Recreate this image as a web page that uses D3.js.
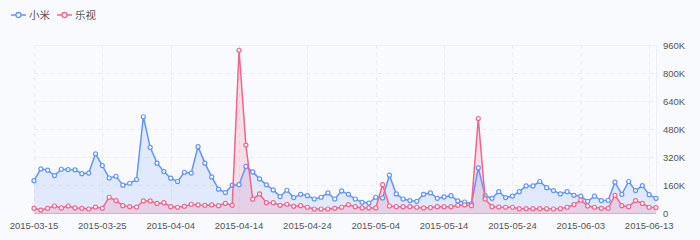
<!DOCTYPE html>
<html>
<head>
<meta charset="utf-8">
<script src="https://cdn.jsdelivr.net/npm/d3@7"></script>
<style>
  body { margin: 0; background: #f9fafd; }
  svg { display: block; }
</style>
</head>
<body>
<svg id="chart"></svg>
<script>
// categories: one point a day
var startDay = "2015-03-15";
var endDay = "2015-06-14";

// daily values, in thousands
var xiaomi = [185, 252, 245, 214, 250, 248, 247, 225, 228, 338, 271, 200, 210, 159, 170, 191,
    550, 375, 285, 237, 199, 180, 233, 228, 379, 285, 206, 136, 117, 159, 162, 266,
    235, 195, 161, 132, 94, 130, 88, 107, 99, 80, 90, 115, 80, 126, 107, 80,
    61, 57, 90, 86, 216, 109, 80, 71, 67, 107, 115, 84, 92, 99, 69, 63,
    53, 258, 99, 84, 122, 88, 97, 122, 155, 155, 180, 145, 128, 109, 122, 101,
    96, 67, 96, 71, 73, 176, 107, 180, 128, 157, 105, 84];
var letv = [27, 17, 27, 40, 29, 40, 29, 27, 23, 34, 27, 90, 71, 42, 36, 34,
    69, 69, 55, 59, 36, 33, 38, 50, 46, 44, 46, 42, 55, 44, 930, 388,
    79, 109, 59, 59, 44, 50, 38, 42, 33, 23, 23, 23, 27, 33, 48, 36,
    29, 29, 29, 162, 40, 36, 36, 36, 33, 29, 31, 36, 36, 36, 44, 46,
    42, 540, 80, 36, 34, 33, 33, 25, 25, 25, 25, 25, 23, 25, 33, 48,
    73, 40, 33, 27, 27, 101, 42, 36, 71, 55, 33, 31];

var seriesNames = ["小米", "乐视"];
var xTickLabels = ["2015-03-15", "2015-03-25", "2015-04-04", "2015-04-14", "2015-04-24",
    "2015-05-04", "2015-05-14", "2015-05-24", "2015-06-03", "2015-06-13"];
var yTicks = [0, 160, 320, 480, 640, 800, 960];

var width = 700;
var height = 240;
var plotLeft = 34, plotRight = 656, plotTop = 45, plotBottom = 213;
var blue = "#6395f9";
var pink = "#f0668c";

var parse = d3.timeParse("%Y-%m-%d");
var days = d3.timeDay.range(parse(startDay), d3.timeDay.offset(parse(endDay), 1));

var svg = d3.select("#chart")
    .attr("width", width)
    .attr("height", height);

var xScale = d3.scaleTime()
    .domain([parse(startDay), parse(endDay)])
    .range([plotLeft, plotRight]);
var yScale = d3.scaleLinear()
    .domain([0, 960])
    .range([plotBottom, plotTop]);

//grid lines
svg.append("g")
    .selectAll("line")
    .data(yTicks.slice(1, -1))
    .enter()
    .append("line")
    .attr("x1", plotLeft)
    .attr("x2", plotRight)
    .attr("y1", function(d){ return Math.round(yScale(d)) + 0.5 })
    .attr("y2", function(d){ return Math.round(yScale(d)) + 0.5 })
    .attr("stroke", "#e7ebf3")
    .attr("stroke-dasharray", "4,4");

svg.append("g")
    .selectAll("line")
    .data(xTickLabels)
    .enter()
    .append("line")
    .attr("x1", function(d){ return Math.round(xScale(parse(d))) + 0.5 })
    .attr("x2", function(d){ return Math.round(xScale(parse(d))) + 0.5 })
    .attr("y1", plotTop)
    .attr("y2", plotBottom)
    .attr("stroke", "#e7ebf3")
    .attr("stroke-dasharray", "4,4");

// top and right border
svg.append("line")
    .attr("x1", plotLeft).attr("x2", plotRight)
    .attr("y1", plotTop + 0.5).attr("y2", plotTop + 0.5)
    .attr("stroke", "#eceff6");
svg.append("line")
    .attr("x1", plotRight + 0.5).attr("x2", plotRight + 0.5)
    .attr("y1", plotTop).attr("y2", plotBottom)
    .attr("stroke", "#eceff6");

var area = d3.area()
    .x(function(d, i){ return xScale(days[i]) })
    .y0(yScale(0))
    .y1(function(d){ return yScale(d) });
var line = d3.line()
    .x(function(d, i){ return xScale(days[i]) })
    .y(function(d){ return yScale(d) });

var series = [
    {name: seriesNames[0], values: xiaomi, color: blue, fill: "rgba(99,149,249,0.16)"},
    {name: seriesNames[1], values: letv, color: pink, fill: "rgba(240,102,140,0.18)"}
];

series.forEach(function(s){
    svg.append("path")
        .attr("d", area(s.values))
        .attr("fill", s.fill);
});

// bottom axis line
svg.append("line")
    .attr("x1", plotLeft).attr("x2", plotRight)
    .attr("y1", plotBottom + 0.5).attr("y2", plotBottom + 0.5)
    .attr("stroke", "#a9bff4");

series.forEach(function(s){
    svg.append("path")
        .attr("d", line(s.values))
        .attr("fill", "none")
        .attr("stroke", s.color)
        .attr("stroke-width", 1.5);
    svg.append("g")
        .selectAll("circle")
        .data(s.values)
        .enter()
        .append("circle")
        .attr("cx", function(d, i){ return xScale(days[i]) })
        .attr("cy", function(d){ return yScale(d) })
        .attr("r", 2)
        .attr("fill", "#fff")
        .attr("stroke", s.color)
        .attr("stroke-width", 1.2);
});

// axes labels
svg.append("g")
    .selectAll("text")
    .data(xTickLabels)
    .enter()
    .append("text")
    .attr("x", function(d){ return xScale(parse(d)) })
    .attr("y", 228.5)
    .attr("text-anchor", "middle")
    .attr("font-family", "Liberation Sans, Arial, sans-serif")
    .attr("font-size", 9.5)
    .attr("fill", "#555")
    .text(function(d){ return d });

svg.append("g")
    .selectAll("text")
    .data(yTicks)
    .enter()
    .append("text")
    .attr("x", 663)
    .attr("y", function(d){ return yScale(d) + 3.5 })
    .attr("font-family", "Liberation Sans, Arial, sans-serif")
    .attr("font-size", 9.5)
    .attr("fill", "#555")
    .text(function(d){ return d === 0 ? "0" : d + "K" });

// legend
var legend = svg.append("g")
    .selectAll("g")
    .data(series)
    .enter()
    .append("g")
    .attr("transform", function(d, i){ return "translate(" + (11 + i * 46) + ",15)" });
legend.append("line")
    .attr("x1", 0).attr("x2", 15)
    .attr("stroke", function(d){ return d.color })
    .attr("stroke-width", 1.5);
legend.append("circle")
    .attr("cx", 7.5)
    .attr("r", 2.5)
    .attr("fill", "#fff")
    .attr("stroke", function(d){ return d.color })
    .attr("stroke-width", 1.3);
legend.append("text")
    .attr("x", 18)
    .attr("y", 4)
    .attr("font-family", "Noto Sans CJK SC, sans-serif")
    .attr("font-size", 10.5)
    .attr("fill", "#555")
    .text(function(d){ return d.name });
</script>
</body>
</html>
